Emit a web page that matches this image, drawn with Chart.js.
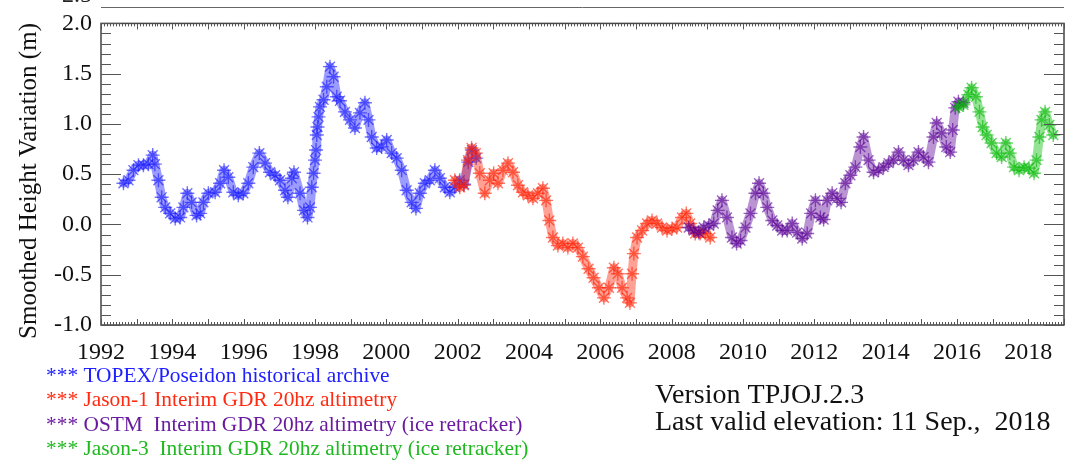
<!DOCTYPE html>
<html>
<head>
<meta charset="utf-8">
<script src="https://cdn.jsdelivr.net/npm/chart.js@4.4.1/dist/chart.umd.min.js"></script>
<style>
  html, body { margin: 0; padding: 0; background: #fff; }
  #wrap { width: 1075px; height: 461px; }
</style>
</head>
<body>
<div id="wrap"><canvas id="chart" width="1075" height="461"></canvas></div>
<script>
////////////////////////////// data //////////////////////////////
const yearTicks = [1992, 1994, 1996, 1998, 2000, 2002, 2004, 2006, 2008, 2010, 2012, 2014, 2016, 2018];
const heightTicks = [-1.0, -0.5, 0.0, 0.5, 1.0, 1.5, 2.0];

const topexYears = [1992.63, 1992.77, 1992.91, 1993.05, 1993.19, 1993.33, 1993.45, 1993.51, 1993.61, 1993.70,
  1993.80, 1993.94, 1994.08, 1994.22, 1994.31, 1994.42, 1994.54, 1994.68, 1994.78, 1994.87,
  1995.01, 1995.20, 1995.34, 1995.45, 1995.57, 1995.71, 1995.85, 1995.99, 1996.13, 1996.27,
  1996.44, 1996.60, 1996.74, 1996.88, 1997.02, 1997.16, 1997.24, 1997.35, 1997.41, 1997.58,
  1997.69, 1997.79, 1997.86, 1997.91, 1997.96, 1998.00, 1998.03, 1998.05, 1998.07, 1998.10,
  1998.14, 1998.24, 1998.33, 1998.42, 1998.52, 1998.61, 1998.70, 1998.84, 1998.98, 1999.12,
  1999.26, 1999.40, 1999.50, 1999.59, 1999.73, 1999.87, 2000.01, 2000.15, 2000.29, 2000.43,
  2000.57, 2000.71, 2000.83, 2000.94, 2001.08, 2001.22, 2001.36, 2001.50, 2001.64, 2001.78,
  2001.92, 2002.06, 2002.18, 2002.30, 2002.40, 2002.52];
const topexHeights = [0.41, 0.44, 0.54, 0.59, 0.59, 0.60, 0.69, 0.60, 0.44, 0.27,
  0.17, 0.11, 0.06, 0.07, 0.17, 0.31, 0.22, 0.09, 0.11, 0.22,
  0.31, 0.32, 0.41, 0.54, 0.47, 0.32, 0.29, 0.31, 0.41, 0.57,
  0.71, 0.61, 0.52, 0.49, 0.44, 0.34, 0.27, 0.46, 0.52, 0.31,
  0.14, 0.07, 0.17, 0.37, 0.51, 0.64, 0.74, 0.89, 0.97, 1.07,
  1.17, 1.24, 1.37, 1.57, 1.47, 1.27, 1.23, 1.12, 1.04, 0.96,
  1.11, 1.21, 1.04, 0.87, 0.76, 0.77, 0.84, 0.71, 0.66, 0.54,
  0.34, 0.22, 0.16, 0.31, 0.41, 0.44, 0.54, 0.46, 0.37, 0.32,
  0.37, 0.44, 0.40, 0.62, 0.74, 0.66];

const jason1Years = [2001.92, 2002.06, 2002.17, 2002.29, 2002.39, 2002.51, 2002.62, 2002.76, 2002.90, 2003.01,
  2003.13, 2003.27, 2003.41, 2003.55, 2003.69, 2003.83, 2003.97, 2004.11, 2004.25, 2004.39,
  2004.48, 2004.57, 2004.67, 2004.81, 2004.95, 2005.09, 2005.23, 2005.37, 2005.51, 2005.67,
  2005.81, 2005.96, 2006.10, 2006.24, 2006.38, 2006.49, 2006.61, 2006.75, 2006.83, 2006.89,
  2006.94, 2007.03, 2007.17, 2007.31, 2007.45, 2007.59, 2007.73, 2007.87, 2008.01, 2008.15,
  2008.29, 2008.41, 2008.52, 2008.66, 2008.80, 2008.94, 2009.08];
const jason1Heights = [0.44, 0.37, 0.39, 0.64, 0.76, 0.71, 0.51, 0.31, 0.44, 0.51,
  0.41, 0.54, 0.61, 0.52, 0.39, 0.32, 0.29, 0.26, 0.31, 0.36,
  0.24, 0.04, -0.13, -0.21, -0.19, -0.23, -0.19, -0.23, -0.32, -0.44,
  -0.53, -0.63, -0.73, -0.63, -0.43, -0.49, -0.63, -0.73, -0.78, -0.49,
  -0.29, -0.13, -0.06, 0.01, 0.04, 0.01, -0.03, -0.06, -0.04, -0.03,
  0.07, 0.11, 0.01, -0.09, -0.09, -0.09, -0.13];

const ostmYears = [2008.48, 2008.62, 2008.76, 2008.90, 2009.04, 2009.18, 2009.29, 2009.41, 2009.55, 2009.69,
  2009.82, 2009.93, 2010.07, 2010.21, 2010.35, 2010.45, 2010.57, 2010.68, 2010.82, 2010.96,
  2011.10, 2011.24, 2011.38, 2011.52, 2011.66, 2011.80, 2011.91, 2012.03, 2012.17, 2012.26,
  2012.36, 2012.50, 2012.64, 2012.75, 2012.87, 2013.01, 2013.15, 2013.29, 2013.38, 2013.52,
  2013.66, 2013.80, 2013.94, 2014.08, 2014.22, 2014.36, 2014.50, 2014.64, 2014.78, 2014.92,
  2015.06, 2015.20, 2015.34, 2015.43, 2015.57, 2015.70, 2015.81, 2015.88, 2015.95, 2016.04,
  2016.18];
const ostmHeights = [-0.03, -0.06, -0.08, -0.03, -0.01, 0.01, 0.14, 0.24, 0.07, -0.13,
  -0.19, -0.16, -0.03, 0.11, 0.31, 0.41, 0.31, 0.17, 0.04, -0.01,
  -0.06, -0.06, 0.01, -0.08, -0.14, -0.09, 0.11, 0.24, 0.07, 0.05,
  0.24, 0.31, 0.26, 0.22, 0.41, 0.49, 0.57, 0.77, 0.87, 0.64,
  0.52, 0.54, 0.57, 0.61, 0.64, 0.72, 0.64, 0.59, 0.64, 0.72,
  0.67, 0.62, 0.87, 1.01, 0.91, 0.77, 0.72, 0.94, 1.16, 1.22,
  1.21];

const jason3Years = [2016.04, 2016.18, 2016.32, 2016.41, 2016.53, 2016.63, 2016.72, 2016.83, 2016.97, 2017.11,
  2017.25, 2017.37, 2017.48, 2017.60, 2017.74, 2017.88, 2018.02, 2018.16, 2018.23, 2018.31,
  2018.37, 2018.47, 2018.59, 2018.70];
const jason3Heights = [1.17, 1.19, 1.29, 1.36, 1.27, 1.12, 0.97, 0.89, 0.81, 0.71,
  0.67, 0.81, 0.71, 0.57, 0.54, 0.57, 0.56, 0.51, 0.64, 0.87,
  1.04, 1.12, 0.99, 0.89];

const legendLines = [
  ['*** TOPEX/Poseidon historical archive', '#2020ff'],
  ['*** Jason-1 Interim GDR 20hz altimetry', '#ff2a10'],
  ['*** OSTM  Interim GDR 20hz altimetry (ice retracker)', '#6a1a9e'],
  ['*** Jason-3  Interim GDR 20hz altimetry (ice retracker)', '#20b820']
];

////////////////////////////// build datasets //////////////////////////////
function toPoints(xs, ys) {
  return xs.map((x, i) => ({ x: x, y: ys[i] }));
}

function series(label, xs, ys, rgb, order) {
  return {
    label: label,
    data: toPoints(xs, ys),
    showLine: true,
    borderColor: `rgba(${rgb},0.42)`,
    borderWidth: 9,
    borderJoinStyle: 'round',
    borderCapStyle: 'round',
    pointStyle: 'star',
    pointRadius: 7,
    pointBorderWidth: 1.4,
    pointBorderColor: `rgba(${rgb},0.6)`,
    pointBackgroundColor: `rgba(${rgb},0.6)`,
    order: order
  };
}

const serif = '"Liberation Serif", "DejaVu Serif", serif';

// ticks inside the box, stray line of the panel above, texts
const frame = {
  id: 'frame',
  afterDraw(chart) {
    const { ctx, chartArea: a, scales: { x, y } } = chart;
    ctx.save();
    ctx.strokeStyle = '#444';
    ctx.lineWidth = 1.5;
    ctx.strokeRect(a.left, a.top, a.right - a.left, a.bottom - a.top);

    ctx.lineWidth = 1;
    ctx.strokeStyle = '#555';
    ctx.beginPath();
    for (let i = -10; i <= 20; i++) {
      const py = Math.round(y.getPixelForValue(i / 10)) + 0.5;
      const len = i % 5 === 0 ? 20 : 10;
      ctx.moveTo(a.left, py); ctx.lineTo(a.left + len, py);
      ctx.moveTo(a.right, py); ctx.lineTo(a.right - len, py);
    }
    for (let m = 0; m <= 27 * 12; m++) {
      const px = Math.round(x.getPixelForValue(1992 + m / 12)) + 0.5;
      const len = m % 12 === 0 ? 6 : 3;
      ctx.moveTo(px, a.bottom); ctx.lineTo(px, a.bottom - len);
      ctx.moveTo(px, a.top); ctx.lineTo(px, a.top + len);
    }
    ctx.stroke();

    // bottom edge of the panel above
    ctx.strokeStyle = '#666';
    ctx.beginPath();
    ctx.moveTo(a.left, 7.5); ctx.lineTo(a.right, 7.5);
    ctx.stroke();
    ctx.fillStyle = '#222';
    ctx.font = '24px ' + serif;
    ctx.textAlign = 'right';
    ctx.textBaseline = 'alphabetic';
    ctx.fillText('2.5', 92, 2);

    // y title
    ctx.save();
    ctx.translate(29, 181);
    ctx.rotate(-Math.PI / 2);
    ctx.textAlign = 'center';
    ctx.textBaseline = 'middle';
    ctx.font = '25px ' + serif;
    ctx.fillStyle = '#111';
    ctx.fillText('Smoothed Height Variation (m)', 0, 0);
    ctx.restore();

    // mission list
    ctx.font = '21.4px ' + serif;
    ctx.textAlign = 'left';
    ctx.textBaseline = 'middle';
    legendLines.forEach((l, i) => {
      ctx.fillStyle = l[1];
      ctx.fillText(l[0], 46, 376 + i * 24.5);
    });

    // version
    ctx.fillStyle = '#111';
    ctx.font = '28px ' + serif;
    ctx.fillText('Version TPJOJ.2.3', 655, 396);
    ctx.fillText('Last valid elevation: 11 Sep.,  2018', 655, 423);
    ctx.restore();
  }
};

new Chart(document.getElementById('chart'), {
  type: 'scatter',
  data: {
    datasets: [
      series('TOPEX/Poseidon', topexYears, topexHeights, '20,20,255', 3),
      series('Jason-1', jason1Years, jason1Heights, '255,30,0', 2),
      series('OSTM', ostmYears, ostmHeights, '90,0,150', 1),
      series('Jason-3', jason3Years, jason3Heights, '0,185,0', 0)
    ]
  },
  options: {
    responsive: false,
    animation: false,
    layout: { padding: { top: 23, right: 11, left: 0, bottom: 0 } },
    plugins: { legend: { display: false }, tooltip: { enabled: false } },
    scales: {
      x: {
        type: 'linear',
        min: 1992,
        max: 2019,
        grid: { display: false, drawTicks: false },
        border: { display: false },
        afterBuildTicks: s => { s.ticks = yearTicks.map(v => ({ value: v })); },
        afterFit: s => { s.height = 136; },
        ticks: {
          autoSkip: false,
          maxRotation: 0,
          padding: 13,
          color: '#111',
          font: { family: serif, size: 24 },
          callback: v => String(v)
        }
      },
      y: {
        min: -1.0,
        max: 2.0,
        grid: { display: false, drawTicks: false },
        border: { display: false },
        afterBuildTicks: s => { s.ticks = heightTicks.map(v => ({ value: v })); },
        afterFit: s => { s.width = 101; },
        ticks: {
          padding: 9,
          color: '#111',
          font: { family: serif, size: 24 },
          callback: v => v.toFixed(1)
        }
      }
    }
  },
  plugins: [frame]
});
</script>
</body>
</html>
